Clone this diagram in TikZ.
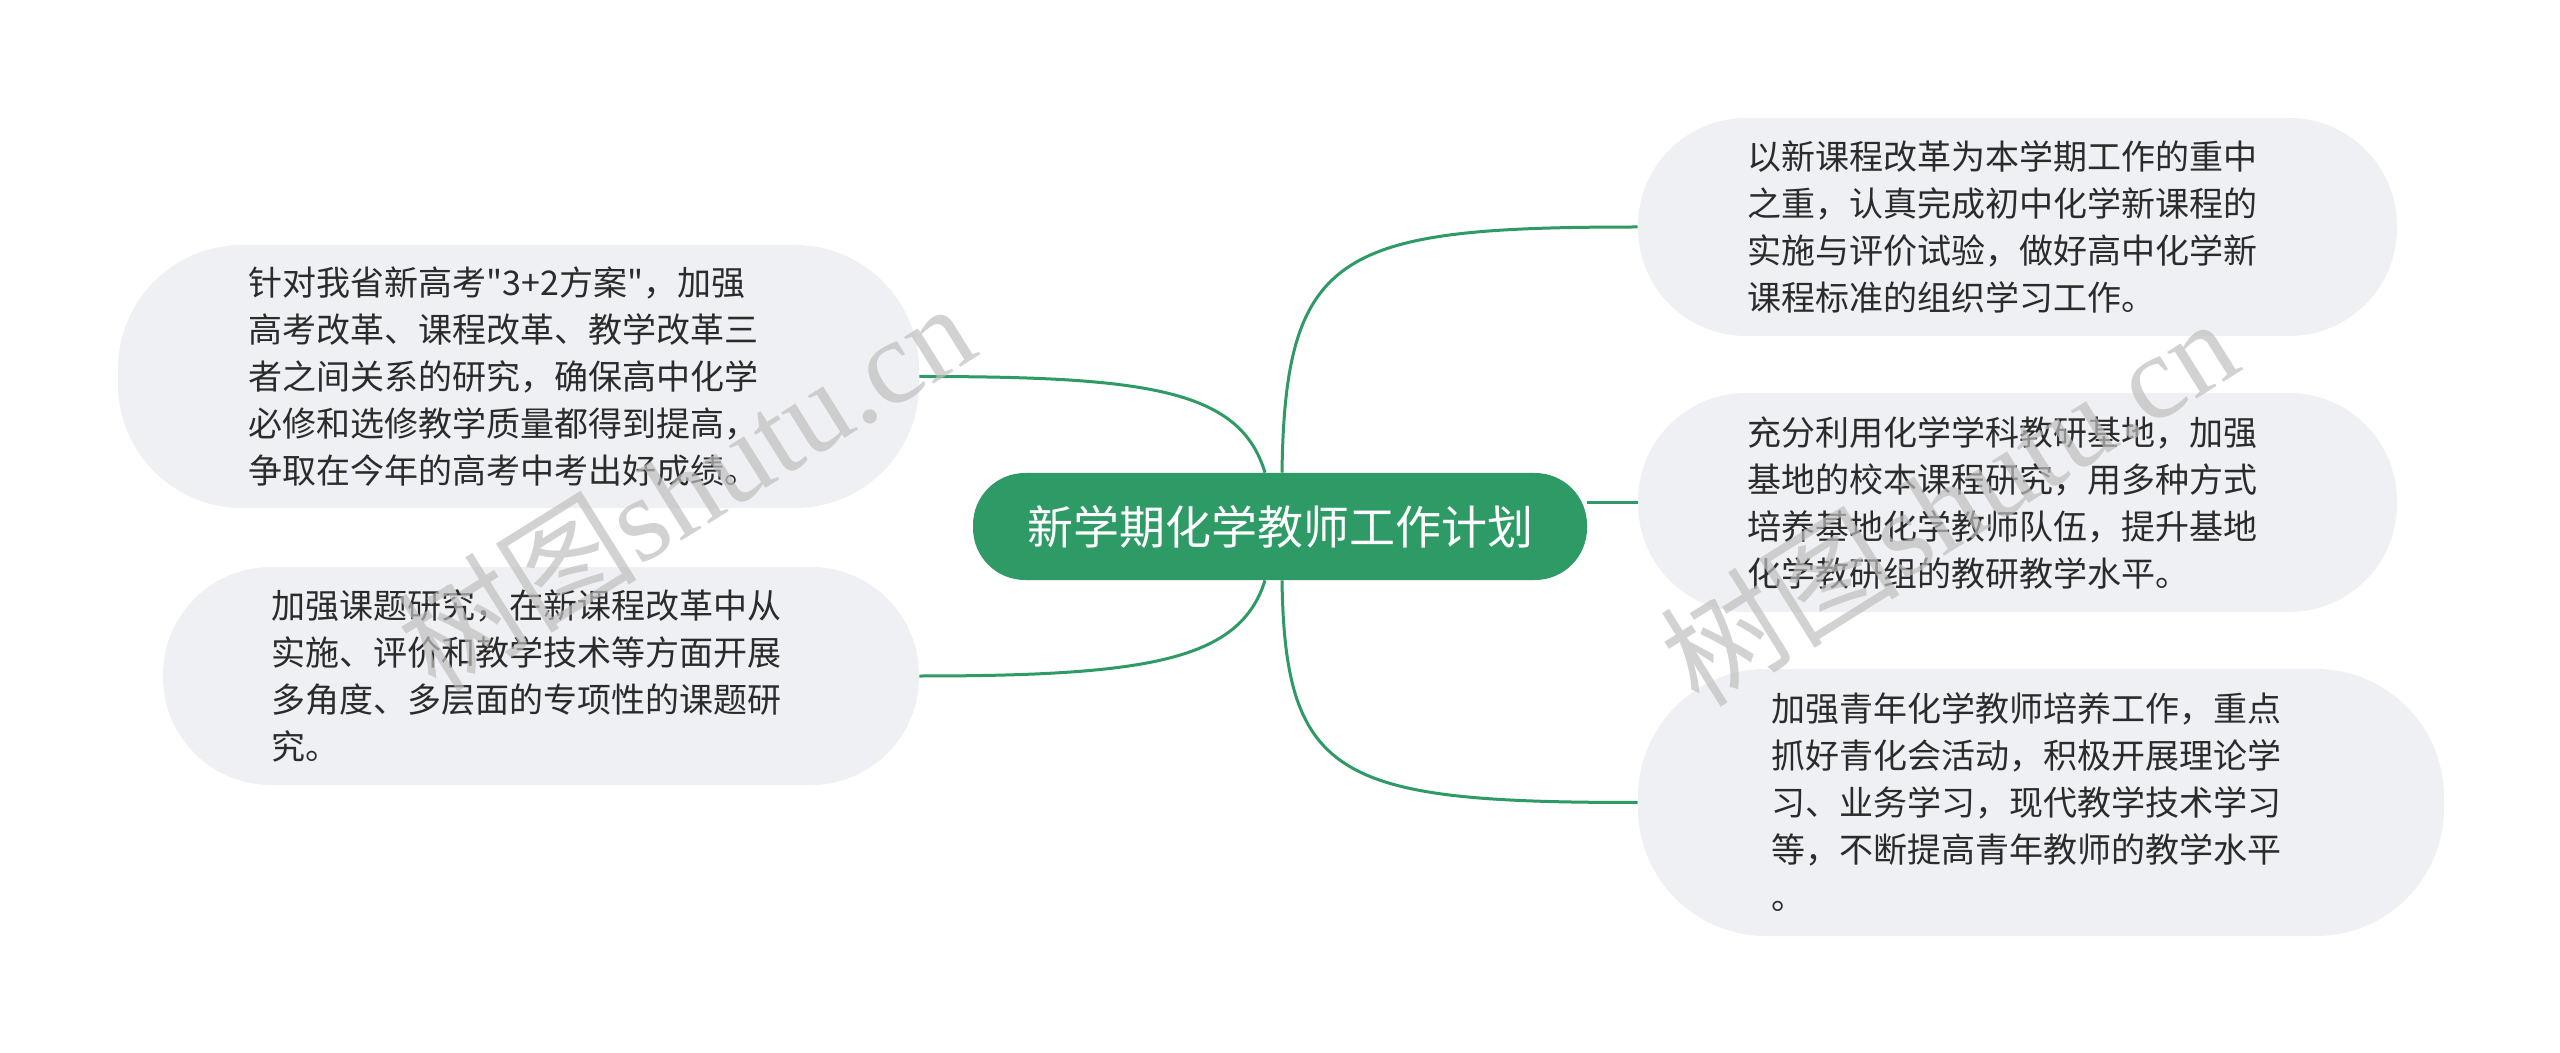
\documentclass[tikz,border=0pt]{standalone}
\usepackage{fontspec}
\setmainfont{Noto Sans CJK SC}[Ligatures=TeXOff]
\newfontfamily\wmlatin{Liberation Serif}
\definecolor{mmgreen}{HTML}{2E9A65}
\definecolor{bubble}{HTML}{EEF0F3}
\definecolor{bodytext}{HTML}{2B2B2B}
\begin{document}
\begin{tikzpicture}[x=0.5pt,y=-0.5pt,
  topic/.style={fill=mmgreen, rounded corners=26pt, inner sep=0pt,
    minimum width=307pt, minimum height=53.5pt, text=white,
    font=\fontsize{23pt}{28pt}\selectfont},
  bub/.style={fill=bubble, rounded corners=54pt, inner sep=0pt,
    text width=270pt, align=left, text=bodytext,
    font=\fontsize{17pt}{23.5pt}\selectfont},
  link/.style={draw=mmgreen, line width=1.5pt},
  wm/.style={text=black!25, text opacity=0.7, inner sep=0pt,
    font=\fontsize{60pt}{62pt}\selectfont}]
\useasboundingbox (0,0) rectangle (2560,1053);
\fill[white] (0,0) rectangle (2560,1053);

\node[bub, minimum width=400.5pt, minimum height=131.5pt, rounded corners=62pt] (l1) at (518.5,376.5)
 {针对我省新高考"3+2方案"，加强\\高考改革、课程改革、教学改革三\\者之间关系的研究，确保高中化学\\必修和选修教学质量都得到提高，\\争取在今年的高考中考出好成绩。};
\node[bub, minimum width=378pt, minimum height=109pt] (l2) at (541,676)
 {加强课题研究，在新课程改革中从\\实施、评价和教学技术等方面开展\\多角度、多层面的专项性的课题研\\究。};
\node[bub, minimum width=379.5pt, minimum height=109pt] (r1) at (2017.5,227)
 {以新课程改革为本学期工作的重中\\之重，认真完成初中化学新课程的\\实施与评价试验，做好高中化学新\\课程标准的组织学习工作。};
\node[bub, minimum width=379.5pt, minimum height=109.5pt] (r2) at (2017.5,502.5)
 {充分利用化学学科教研基地，加强\\基地的校本课程研究，用多种方式\\培养基地化学教师队伍，提升基地\\化学教研组的教研教学水平。};
\node[bub, minimum width=403pt, minimum height=133.5pt, rounded corners=64pt] (r3) at (2041,802.5)
 {加强青年化学教师培养工作，重点\\抓好青化会活动，积极开展理论学\\习、业务学习，现代教学技术学习\\等，不断提高青年教师的教学水平\\。};

\node[topic] (c) at (1280,526.5) {新学期化学教师工作计划};

\draw[link] ([xshift=-7.5pt]c.north) .. controls (1240,390) and (1150,376.5) .. (l1.east);
\draw[link] ([xshift=-7.5pt]c.south) .. controls (1240,660) and (1150,676) .. (l2.east);
\draw[link] ([xshift=1pt]c.north) .. controls (1285,250) and (1340,227) .. (r1.west);
\draw[link] (r2.west -| c.east) -- (r2.west);
\draw[link] ([xshift=1pt]c.south) .. controls (1285,780) and (1340,802.5) .. (r3.west);

\node[wm, rotate=32] (wm1) at (685,485) {树图{\wmlatin shutu.cn}};
\node[wm, rotate=32] (wm2) at (1948,500) {树图{\wmlatin shutu.cn}};
\end{tikzpicture}
\end{document}
